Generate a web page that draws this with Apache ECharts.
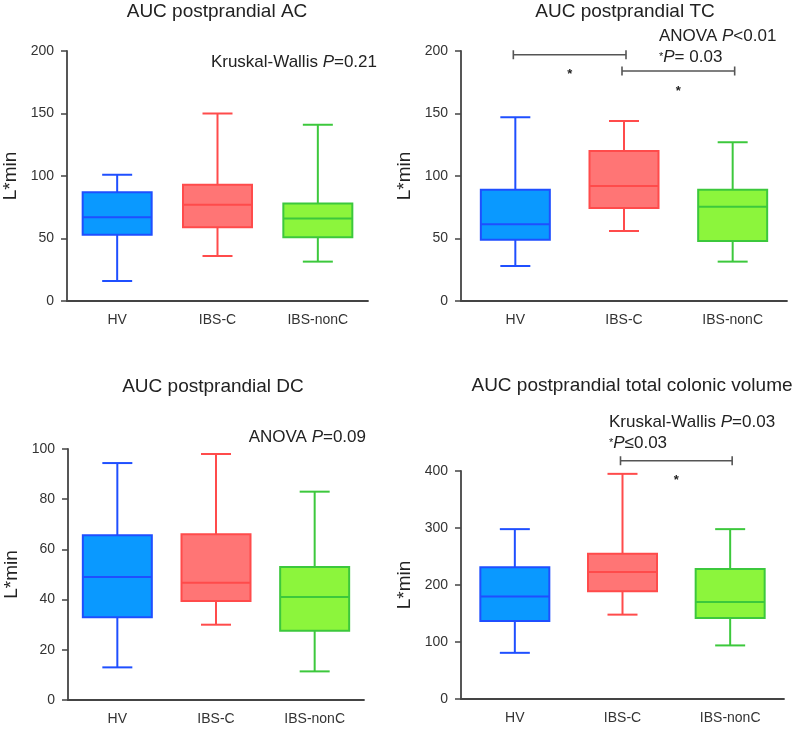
<!DOCTYPE html>
<html>
<head>
<meta charset="utf-8">
<script src="https://cdn.jsdelivr.net/npm/echarts@6/dist/echarts.min.js"></script>
<style>
html,body{margin:0;padding:0;background:#fff;}
#chart{width:794px;height:731px;}
</style>
</head>
<body>
<div id="chart"></div>
<script>
// ---- data ----
const categories = ['HV', 'IBS-C', 'IBS-nonC'];
// each entry: [min, Q1, median, Q3, max]
const acValues = [[16, 53, 67, 87, 101], [36, 59, 77, 93, 150], [31.5, 51, 66, 78, 141]];
const tcValues = [[28, 49, 61.5, 89, 147], [56, 74.5, 92, 120, 144], [31.5, 48, 75.5, 89, 127]];
const dcValues = [[13, 33, 49, 65.6, 94.4], [30, 39.4, 46.7, 66, 98], [11.4, 27.6, 41, 53, 83]];
const tvValues = [[81, 137, 180, 231, 298], [148, 189, 223, 255, 395], [94, 142, 170, 228, 298]];
// significance brackets: [fromCategory, toCategory, value]
const tcBrackets = [[0, 1, 197], [1, 2, 184]];
const tvBrackets = [[1, 2, 418]];
const titles = ['AUC postprandial AC', 'AUC postprandial TC', 'AUC postprandial DC', 'AUC postprandial total colonic volume'];
const yAxisName = 'L*min';
const yRanges = [[0, 200, 50], [0, 200, 50], [0, 100, 20], [0, 400, 100]];

// ---- styles ----
const palette = [
  {fill: '#0a99ff', stroke: '#1f4fff'},
  {fill: '#ff7575', stroke: '#ff4b4b'},
  {fill: '#8cf53c', stroke: '#3cc83c'}
];
const FONT = '"Liberation Sans", Arial, Helvetica, sans-serif';
const AX = '#444';

const grids = [
  {left: 67, right: 426, top: 51, bottom: 430},
  {left: 461, right: 7, top: 51, bottom: 430},
  {left: 68, right: 430, top: 449, bottom: 31},
  {left: 461, right: 10, top: 471, bottom: 32}
];

function renderBox(params, api) {
  const idx = api.value(0);
  const c = palette[idx];
  const xC = api.coord([idx, 0])[0];
  const y = k => api.coord([idx, api.value(k)])[1];
  const yMin = y(1), yQ1 = y(2), yMed = y(3), yQ3 = y(4), yMax = y(5);
  const bw = 69, cw = 30;
  const ls = {stroke: c.stroke, lineWidth: 2};
  return {type: 'group', children: [
    {type: 'line', shape: {x1: xC, y1: yMax, x2: xC, y2: yQ3}, style: ls},
    {type: 'line', shape: {x1: xC, y1: yQ1, x2: xC, y2: yMin}, style: ls},
    {type: 'line', shape: {x1: xC - cw / 2, y1: yMax, x2: xC + cw / 2, y2: yMax}, style: ls},
    {type: 'line', shape: {x1: xC - cw / 2, y1: yMin, x2: xC + cw / 2, y2: yMin}, style: ls},
    {type: 'rect', shape: {x: xC - bw / 2, y: yQ3, width: bw, height: yQ1 - yQ3}, style: {fill: c.fill, stroke: c.stroke, lineWidth: 2}},
    {type: 'line', shape: {x1: xC - bw / 2, y1: yMed, x2: xC + bw / 2, y2: yMed}, style: ls}
  ]};
}

function renderBracket(params, api) {
  const a = api.coord([api.value(0), api.value(2)]);
  const b = api.coord([api.value(1), api.value(2)]);
  const ls = {stroke: '#555', lineWidth: 1.6};
  const h = 4.5;
  return {type: 'group', children: [
    {type: 'line', shape: {x1: a[0] - 2, y1: a[1], x2: b[0] + 2, y2: b[1]}, style: ls},
    {type: 'line', shape: {x1: a[0] - 2, y1: a[1] - h, x2: a[0] - 2, y2: a[1] + h}, style: ls},
    {type: 'line', shape: {x1: b[0] + 2, y1: b[1] - h, x2: b[0] + 2, y2: b[1] + h}, style: ls},
    {type: 'text', style: {text: '*', x: (a[0] + b[0]) / 2, y: a[1] + 20, align: 'center', verticalAlign: 'middle', font: 'bold 13px ' + FONT, fill: '#222'}}
  ]};
}

const boxSets = [acValues, tcValues, dcValues, tvValues];
const series = [];
boxSets.forEach((vals, g) => {
  series.push({
    type: 'custom', xAxisIndex: g, yAxisIndex: g,
    renderItem: renderBox,
    encode: {x: 0, y: [1, 2, 3, 4, 5]},
    data: vals.map((v, i) => [i].concat(v)),
    silent: true
  });
});
[[1, tcBrackets], [3, tvBrackets]].forEach(([g, br]) => {
  series.push({
    type: 'custom', xAxisIndex: g, yAxisIndex: g, clip: false,
    renderItem: renderBracket,
    encode: {x: [0, 1], y: 2},
    data: br,
    silent: true
  });
});

const xAxis = grids.map((_, g) => ({
  type: 'category', gridIndex: g, data: categories, boundaryGap: true,
  axisLine: {lineStyle: {color: AX, width: 1.8}},
  axisTick: {alignWithLabel: true, length: 5, lineStyle: {color: AX, width: 1.5}},
  axisLabel: {color: '#333', fontSize: 14, fontFamily: FONT, margin: 12}
}));
const yAxis = grids.map((_, g) => ({
  type: 'value', gridIndex: g, min: yRanges[g][0], max: yRanges[g][1], interval: yRanges[g][2],
  name: yAxisName, nameLocation: 'middle', nameGap: 47,
  nameTextStyle: {fontSize: 19, color: '#222', fontFamily: FONT},
  axisLine: {show: true, lineStyle: {color: AX, width: 1.8}},
  axisTick: {show: true, length: 6, lineStyle: {color: AX, width: 1.5}},
  axisLabel: {color: '#333', fontSize: 14, fontFamily: FONT, margin: 13},
  splitLine: {show: false}
}));

const titlePos = [[217, 2], [625, 2], [213, 377], [632, 376]];
const graphic = titles.map((t, i) => ({
  type: 'text', x: titlePos[i][0], y: titlePos[i][1],
  style: {text: t, font: '19px ' + FONT, fill: '#222', align: 'center', verticalAlign: 'top'}
}));
const rich = {
  i: {fontStyle: 'italic', fontSize: 17, fontFamily: FONT, fill: '#222'},
  s: {fontSize: 11, fontFamily: FONT, fill: '#222'}
};
const notes = [
  {text: 'Kruskal-Wallis {i|P}=0.21', x: 377, y: 62, align: 'right'},
  {text: 'ANOVA {i|P}<0.01', x: 659, y: 36, align: 'left'},
  {text: '{s|*}{i|P}= 0.03', x: 659, y: 57, align: 'left'},
  {text: 'ANOVA {i|P}=0.09', x: 366, y: 437, align: 'right'},
  {text: 'Kruskal-Wallis {i|P}=0.03', x: 609, y: 422, align: 'left'},
  {text: '{s|*}{i|P}≤0.03', x: 609, y: 443, align: 'left'}
];
notes.forEach(n => graphic.push({
  type: 'text', x: n.x, y: n.y,
  style: {text: n.text, font: '17px ' + FONT, fill: '#222', align: n.align, verticalAlign: 'middle', rich: rich}
}));

const chart = echarts.init(document.getElementById('chart'), null, {renderer: 'canvas'});
chart.setOption({
  animation: false,
  backgroundColor: '#fff',
  textStyle: {fontFamily: FONT},
  grid: grids,
  xAxis: xAxis,
  yAxis: yAxis,
  series: series,
  graphic: graphic
});
</script>
</body>
</html>
